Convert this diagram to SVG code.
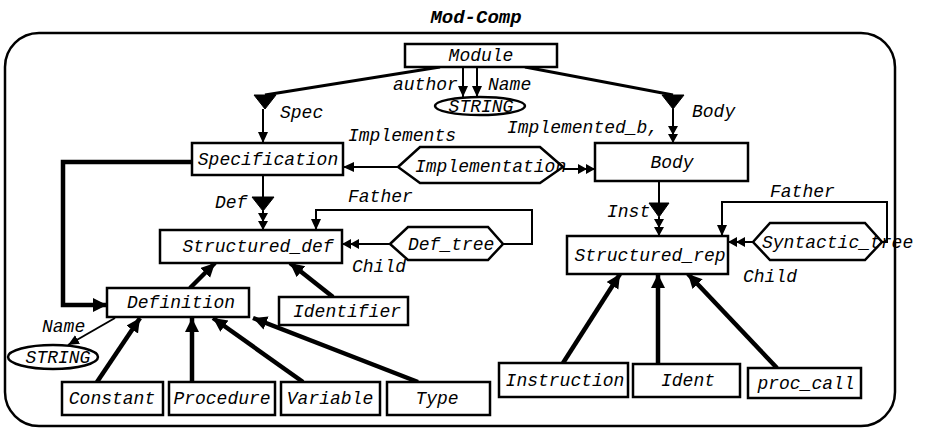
<svg xmlns="http://www.w3.org/2000/svg" width="925" height="431" viewBox="0 0 925 431">
<defs>
<style>
text{font-family:"Liberation Mono","DejaVu Sans Mono",monospace;font-style:italic;font-size:18px;fill:#000}
.t{text-anchor:middle}
.title{font-weight:bold;font-size:19px;text-anchor:middle}
.box{fill:#fff;stroke:#000;stroke-width:2.5}
.c{fill:none;stroke:#000;stroke-width:2}
.k{fill:none;stroke:#000;stroke-width:4.5}
.tri{fill:#000;stroke:#000;stroke-width:1}
</style>
<marker id="a" markerUnits="userSpaceOnUse" markerWidth="14" markerHeight="12" refX="11" refY="5" orient="auto"><path d="M0,0 L11,5 L0,10 Z" fill="#000"/></marker>
<marker id="aa" markerUnits="userSpaceOnUse" markerWidth="20" markerHeight="12" refX="17" refY="5" orient="auto"><path d="M0,0 L9,5 L0,10 Z M8,0 L17,5 L8,10 Z" fill="#000"/></marker>
<marker id="ak" markerUnits="userSpaceOnUse" markerWidth="18" markerHeight="16" refX="14" refY="7" orient="auto"><path d="M0,0 L14,7 L0,14 Z" fill="#000"/></marker>
</defs>
<rect width="925" height="431" fill="#fff"/>
<text class="title" x="476" y="23">Mod-Comp</text>
<rect x="5" y="33" width="890" height="393" rx="34" fill="none" stroke="#000" stroke-width="2.5"/>

<g id="connectors">
<path class="c" d="M440,67 L265,95" style="stroke-width:3"/>
<path class="tri" d="M254,95 L276,95 L265,109 Z"/>
<path class="c" d="M263,109 V143" marker-end="url(#a)"/>
<path class="c" d="M525,67 L673,95" style="stroke-width:3"/>
<path class="tri" d="M662,95 L684,95 L673,109 Z"/>
<path class="c" d="M673,109 V143" marker-end="url(#aa)"/>
<path class="c" d="M463,67 V97" marker-end="url(#a)"/>
<path class="c" d="M477,67 V97" marker-end="url(#a)"/>
<path class="c" d="M263,175 V197"/>
<path class="tri" d="M252,197 L274,197 L263,211 Z"/>
<path class="c" d="M263,211 V230" marker-end="url(#aa)"/>
<path class="c" d="M659,181 V203"/>
<path class="tri" d="M649,203 L669,203 L659,217 Z"/>
<path class="c" d="M659,217 V236" marker-end="url(#aa)"/>
<path class="c" d="M398,167 H343" marker-end="url(#a)"/>
<path class="c" d="M563,169 H595" marker-end="url(#aa)"/>
<path class="k" d="M192,162 H63 V305 H107" marker-end="url(#ak)"/>
<path class="c" d="M503,244 H532 V210 H316 V230" marker-end="url(#a)"/>
<path class="c" d="M390,244 H342" marker-end="url(#aa)"/>
<path class="c" d="M882,242 H887 V202 H722 V236" marker-end="url(#a)"/>
<path class="c" d="M753,242 H728" marker-end="url(#aa)"/>
<path class="k" d="M190,288 L215,263" marker-end="url(#ak)"/>
<path class="k" d="M333,297 L290,263" marker-end="url(#ak)"/>
<path class="c" d="M115,318 L68,345" marker-end="url(#a)"/>
<path class="k" d="M97,382 L140,318" marker-end="url(#ak)"/>
<path class="k" d="M192,382 V318" marker-end="url(#ak)"/>
<path class="k" d="M303,382 L213,318" marker-end="url(#ak)"/>
<path class="k" d="M418,382 L253,318" marker-end="url(#ak)"/>
<path class="k" d="M563,363 L620,274" marker-end="url(#ak)"/>
<path class="k" d="M658,364 V274" marker-end="url(#ak)"/>
<path class="k" d="M777,368 L688,274" marker-end="url(#ak)"/>
<text x="280" y="118">Spec</text>
<text x="692" y="117">Body</text>
<text x="507" y="133">Implemented_b,</text>
<text x="393" y="90">author</text>
<text x="488" y="90">Name</text>
<text x="348" y="141">Implements</text>
<text x="215" y="208">Def</text>
<text x="607" y="217">Inst</text>
<text x="348" y="202">Father</text>
<text x="352" y="272">Child</text>
<text x="770" y="197">Father</text>
<text x="743" y="282">Child</text>
<text x="42" y="332">Name</text>
</g>

<g id="module"><rect class="box" x="405" y="44" width="152" height="23"/><text class="t" x="481" y="61">Module</text></g>
<g id="string-top"><ellipse class="box" cx="480" cy="106" rx="45" ry="9"/><text class="t" x="481" y="112">STRING</text></g>
<g id="specification"><rect class="box" x="192" y="143" width="151" height="32"/><text class="t" x="268" y="165">Specification</text></g>
<g id="body"><rect class="box" x="595" y="143" width="153" height="38"/><text class="t" x="672" y="168">Body</text></g>
<g id="implementation"><polygon class="box" points="398,167 420,147 540,147 563,167 540,183 420,183"/><text x="415" y="172">Implementation</text></g>
<g id="structured-def"><rect class="box" x="160" y="230" width="182" height="33"/><text class="t" x="258" y="252">Structured_def</text></g>
<g id="def-tree"><polygon class="box" points="390,244 408,227 488,227 503,244 488,260 408,260"/><text x="408" y="250">Def_tree</text></g>
<g id="structured-rep"><rect class="box" x="567" y="236" width="161" height="38"/><text class="t" x="650" y="261">Structured_rep</text></g>
<g id="syntactic-tree"><polygon class="box" points="753,242 770,223 865,223 882,242 865,260 770,260"/><text x="762" y="248">Syntactic_tree</text></g>
<g id="definition"><rect class="box" x="107" y="288" width="142" height="29"/><text class="t" x="181" y="308">Definition</text></g>
<g id="identifier"><rect class="box" x="279" y="297" width="129" height="28"/><text class="t" x="347" y="317">Identifier</text></g>
<g id="string-bottom"><ellipse class="box" cx="53" cy="357" rx="45" ry="12"/><text class="t" x="58" y="363">STRING</text></g>
<g id="constant"><rect class="box" x="62" y="382" width="101" height="33"/><text class="t" x="112" y="404">Constant</text></g>
<g id="procedure"><rect class="box" x="169" y="382" width="106" height="33"/><text class="t" x="222" y="404">Procedure</text></g>
<g id="variable"><rect class="box" x="281" y="382" width="99" height="33"/><text class="t" x="330" y="404">Variable</text></g>
<g id="type"><rect class="box" x="387" y="382" width="103" height="33"/><text class="t" x="437" y="404">Type</text></g>
<g id="instruction"><rect class="box" x="499" y="363" width="129" height="34"/><text class="t" x="565" y="386">Instruction</text></g>
<g id="ident"><rect class="box" x="633" y="364" width="107" height="33"/><text class="t" x="688" y="386">Ident</text></g>
<g id="proc-call"><rect class="box" x="748" y="368" width="113" height="30"/><text class="t" x="806" y="389">proc_call</text></g>
</svg>
